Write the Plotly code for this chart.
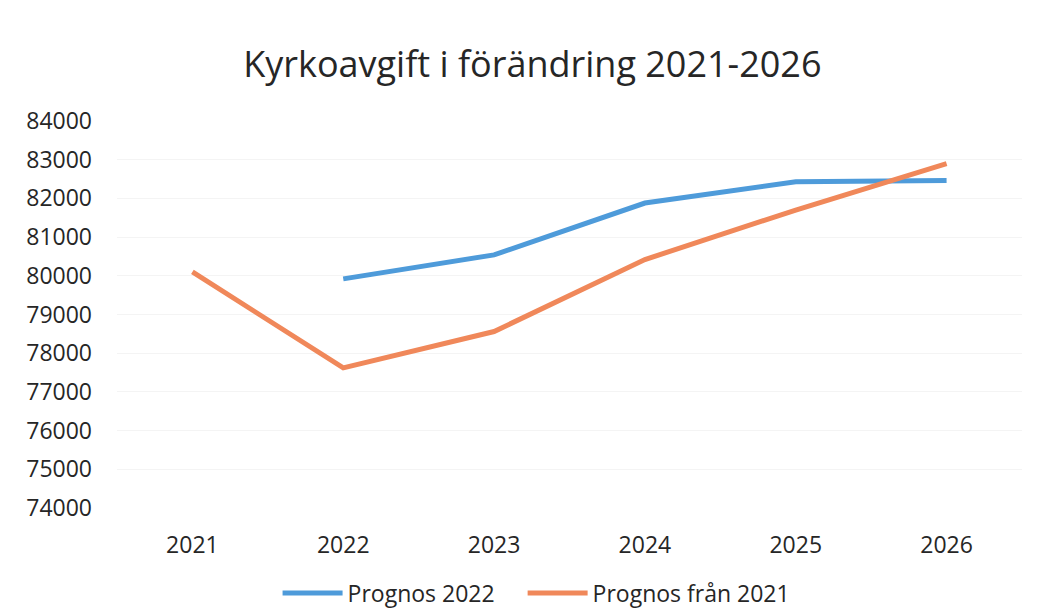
import plotly.graph_objects as go

years = ["2021", "2022", "2023", "2024", "2025", "2026"]
prognos_2022 = [None, 79920, 80540, 81880, 82430, 82460]
prognos_fran_2021 = [80100, 77620, 78560, 80420, 81700, 82900]
y_ticks = [74000, 75000, 76000, 77000, 78000, 79000, 80000, 81000, 82000, 83000, 84000]

fig = go.Figure()
fig.add_trace(go.Scatter(x=years, y=prognos_2022, mode="lines", name="Prognos 2022\u2003",
                         line=dict(color="#4E9BDA", width=5), connectgaps=False))
fig.add_trace(go.Scatter(x=years, y=prognos_fran_2021, mode="lines", name="Prognos från 2021",
                         line=dict(color="#F0885A", width=5)))

fig.update_layout(
    width=1048, height=612,
    paper_bgcolor="white", plot_bgcolor="white",
    margin=dict(l=117, r=26, t=121, b=104, autoexpand=False),
    title=dict(text="Kyrkoavgift i förändring 2021-2026", x=0.508, xanchor="center",
               y=0.894, yanchor="middle",
               font=dict(family="Open Sans", size=36, color="#262626")),
    font=dict(family="Open Sans", color="#262626"),
    xaxis=dict(type="category", range=[-0.5, 5.5], showgrid=False, showline=False,
               ticks="", automargin=False, ticklabelstandoff=21,
               tickfont=dict(size=23, color="#262626")),
    yaxis=dict(range=[74000, 84000], tickvals=y_ticks, ticktext=[str(v) for v in y_ticks],
               showgrid=True, gridcolor="#F4F4F4", gridwidth=1, zeroline=False,
               showline=False, ticks="", ticklabelstandoff=24, automargin=False,
               tickfont=dict(size=23, color="#262626")),
    legend=dict(orientation="h", xref="container", x=0.512, xanchor="center",
                yref="container", y=0.031, yanchor="middle",
                font=dict(size=23, color="#262626"), itemwidth=60,
                bgcolor="rgba(0,0,0,0)"),
    showlegend=True,
)

fig.write_html("out.html", config={"displayModeBar": False},
               post_script="document.body.style.margin='0';")
